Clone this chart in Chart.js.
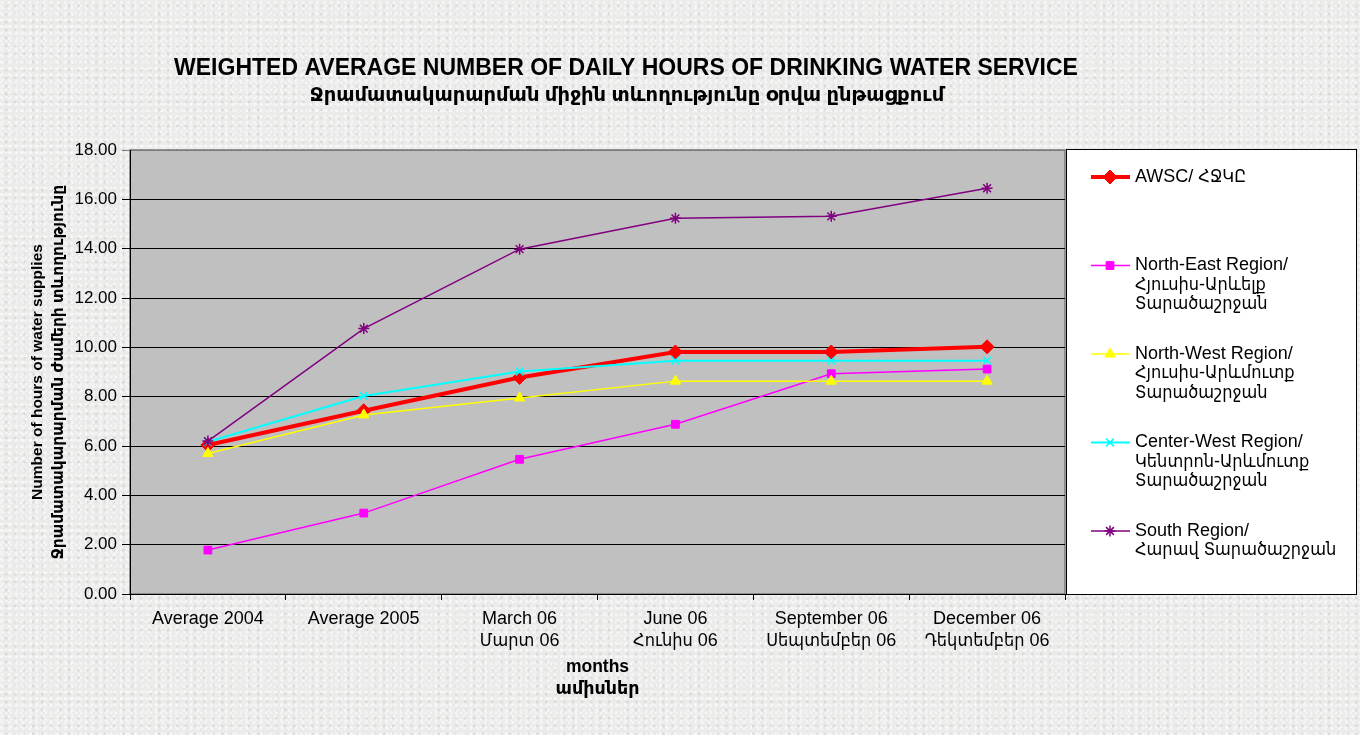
<!DOCTYPE html>
<html>
<head>
<meta charset="utf-8">
<script src="https://cdn.jsdelivr.net/npm/chart.js@4/dist/chart.umd.min.js"></script>
<style>
  html, body { margin: 0; padding: 0; }
  body {
    width: 1360px; height: 735px; overflow: hidden;
    background-color: #ebebea;
    background-image:
      radial-gradient(circle at 30% 40%, rgba(255,255,255,0.55) 0 1px, transparent 2px),
      radial-gradient(circle at 70% 75%, rgba(200,200,200,0.45) 0 1px, transparent 2px),
      radial-gradient(circle at 15% 85%, rgba(255,255,255,0.5) 0 1px, transparent 2px);
    background-size: 7px 6px, 9px 8px, 5px 7px;
  }
  #wrap { position: relative; width: 1360px; height: 735px; }
</style>
</head>
<body>
<div id="wrap"><canvas id="chart" width="1360" height="735"></canvas></div>
<script>
// chart data
const categories = [
    ['Average 2004'],
    ['Average 2005'],
    ['March 06', 'Մարտ 06'],
    ['June 06', 'Հունիս 06'],
    ['September 06', 'Սեպտեմբեր 06'],
    ['December 06', 'Դեկտեմբեր 06']
];
const awsc       = [6.04, 7.43, 8.78, 9.81, 9.81, 10.02];
const northEast  = [1.78, 3.28, 5.46, 6.88, 8.93, 9.12];
const northWest  = [5.70, 7.26, 7.95, 8.63, 8.63, 8.63];
const centerWest = [6.17, 8.03, 9.02, 9.46, 9.46, 9.46];
const south      = [6.20, 10.76, 13.98, 15.23, 15.31, 16.45];

const seriesNames = [
    ['AWSC/ ՀՋԿԸ'],
    ['North-East Region/', 'Հյուսիս-Արևելք', 'Տարածաշրջան'],
    ['North-West Region/', 'Հյուսիս-Արևմուտք', 'Տարածաշրջան'],
    ['Center-West Region/', 'Կենտրոն-Արևմուտք', 'Տարածաշրջան'],
    ['South Region/', 'Հարավ Տարածաշրջան']
];

const titleLines = [
    'WEIGHTED AVERAGE NUMBER OF DAILY HOURS OF DRINKING WATER SERVICE',
    'Ջրամատակարարման միջին տևողությունը օրվա ընթացքում'
];
const yTitle = ['Number of hours of water supplies', 'Ջրամատակարարման ժամերի տևողությունը'];
const xTitle = ['months', 'ամիսներ'];

const FONT = 'Arial, "Liberation Sans", "DejaVu Sans", "Noto Sans", sans-serif';
// narrower Armenian fallback for legend and month labels
const FONT_N = 'Arial, "Liberation Sans", "DejaVu Sans Condensed", "DejaVu Sans", sans-serif';

// grey plot area + border
const plotBg = {
    id: 'plotBg',
    beforeDraw(chart) {
        const { ctx, chartArea: a } = chart;
        ctx.save();
        ctx.fillStyle = '#c0c0c0';
        ctx.fillRect(a.left, a.top, a.right - a.left, a.bottom - a.top);
        ctx.strokeStyle = '#7a7a7a';
        ctx.lineWidth = 1.5;
        ctx.strokeRect(a.left, a.top, a.right - a.left, a.bottom - a.top);
        ctx.restore();
    }
};

// titles and legend box
const extras = {
    id: 'extras',
    afterDraw(chart) {
        const ctx = chart.ctx;
        ctx.save();
        ctx.fillStyle = '#000';
        ctx.textAlign = 'center';
        ctx.textBaseline = 'middle';
        ctx.font = 'bold 23px ' + FONT;
        ctx.fillText(titleLines[0], 626, 69);
        ctx.font = 'bold 19.5px ' + FONT;
        ctx.fillText(titleLines[1], 627, 96);

        // legend
        ctx.fillStyle = '#fff';
        ctx.fillRect(1066, 149, 291, 446);
        ctx.strokeStyle = '#000';
        ctx.lineWidth = 1;
        ctx.strokeRect(1066.5, 149.5, 290, 445);

        chart.data.datasets.forEach((ds, i) => {
            const y0 = 177 + i * 88.5;
            ctx.strokeStyle = ds.borderColor;
            ctx.lineWidth = ds.borderWidth;
            ctx.beginPath();
            ctx.moveTo(1091, y0);
            ctx.lineTo(1130, y0);
            ctx.stroke();
            if (Chart.helpers && Chart.helpers.drawPoint) {
                ctx.fillStyle = ds.pointBackgroundColor;
                ctx.strokeStyle = ds.pointBorderColor;
                ctx.lineWidth = ds.pointBorderWidth;
                Chart.helpers.drawPoint(ctx, {
                    pointStyle: ds.pointStyle,
                    radius: ds.pointRadius,
                    rotation: 0,
                    borderWidth: ds.pointBorderWidth
                }, 1110, y0);
            }
            ctx.fillStyle = '#000';
            ctx.textAlign = 'left';
            ctx.font = '18px ' + FONT_N;
            seriesNames[i].forEach((t, k) => ctx.fillText(t, 1135, y0 + k * 19.5));
        });
        ctx.restore();
    }
};

function ds(label, data, color, width, style, radius, order) {
    return {
        label: label,
        data: data,
        borderColor: color,
        backgroundColor: color,
        pointBackgroundColor: color,
        pointBorderColor: color,
        borderWidth: width,
        pointStyle: style,
        pointRadius: radius,
        pointBorderWidth: style === 'star' || style === 'crossRot' ? 1.5 : 1,
        tension: 0,
        order: order
    };
}

const chart = new Chart(document.getElementById('chart'), {
    type: 'line',
    data: {
        labels: categories,
        datasets: [
            ds(seriesNames[0].join(' '), awsc, '#ff0000', 4, 'rectRot', 7, 5),
            ds(seriesNames[1].join(' '), northEast, '#ff00ff', 1.5, 'rect', 5.5, 4),
            ds(seriesNames[2].join(' '), northWest, '#ffff00', 1.5, 'triangle', 6, 3),
            ds(seriesNames[3].join(' '), centerWest, '#00ffff', 2, 'crossRot', 5.5, 2),
            ds(seriesNames[4].join(' '), south, '#800080', 1.5, 'star', 5.5, 1)
        ]
    },
    options: {
        responsive: false,
        animation: false,
        layout: { padding: { left: 0, top: 150, right: 295, bottom: 0 } },
        plugins: {
            legend: { display: false },
            title: { display: false },
            tooltip: { enabled: false }
        },
        scales: {
            x: {
                offset: true,
                afterFit(axis) { axis.height = 141; },
                grid: {
                    offset: true,
                    drawOnChartArea: false,
                    drawTicks: true,
                    tickLength: 6,
                    color: '#000'
                },
                border: { color: '#000', width: 1 },
                ticks: {
                    color: '#000',
                    padding: 8,
                    maxRotation: 0,
                    autoSkip: false,
                    font: { family: FONT_N, size: 18, lineHeight: 1.22 }
                },
                title: {
                    display: true,
                    text: xTitle,
                    color: '#000',
                    font: { family: FONT, size: 17.5, weight: 'bold', lineHeight: 1.26 },
                    padding: { top: 0, bottom: 35 }
                }
            },
            y: {
                min: 0,
                max: 18,
                afterFit(axis) { axis.width = 130; },
                grid: {
                    color: ctx => ctx.tick && ctx.tick.value === 18 ? '#7a7a7a' : '#000',
                    lineWidth: 1,
                    tickLength: 8,
                    drawTicks: true
                },
                border: { color: '#000', width: 1 },
                ticks: {
                    stepSize: 2,
                    color: '#000',
                    padding: 5,
                    font: { family: FONT, size: 17 },
                    callback: v => v.toFixed(2)
                },
                title: {
                    display: true,
                    text: yTitle,
                    color: '#000',
                    font: { family: FONT, size: 15.5, weight: 'bold', lineHeight: 1.35 },
                    padding: { top: 27, bottom: 0 }
                }
            }
        }
    },
    plugins: [plotBg, extras]
});
</script>
</body>
</html>
